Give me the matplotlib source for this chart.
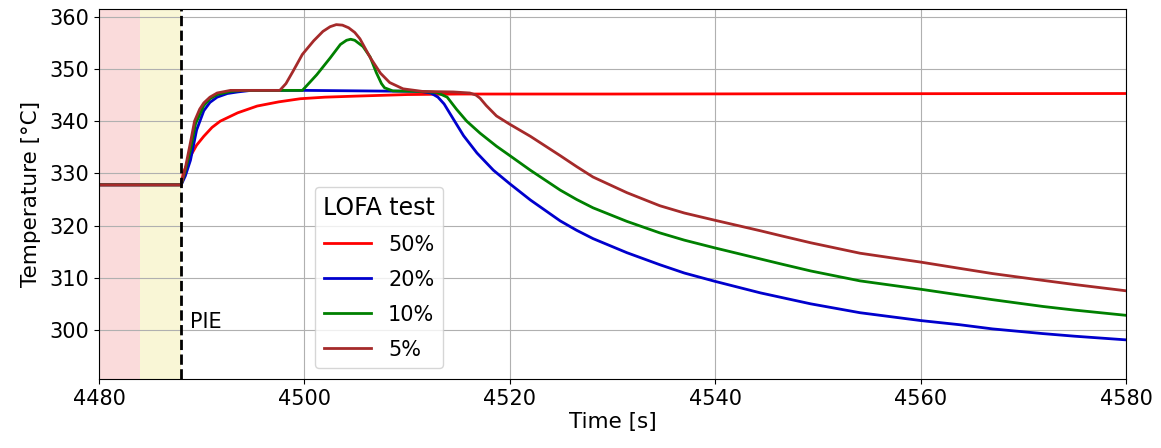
import numpy as np
import matplotlib
matplotlib.use('Agg')
import matplotlib.pyplot as plt

# LOFA test, flow reduced to 50/20/10/5 %
t_50 = [4478, 4488, 4488.2, 4488.9, 4489.5, 4490.2, 4491.0, 4491.8, 4493.5, 4495.4,
        4497.5, 4499.6, 4502, 4505, 4510, 4515, 4530, 4550, 4580]
T_50 = [327.8, 327.8, 330.1, 333.3, 335.4, 337.1, 338.8, 340.0, 341.6, 342.9,
        343.7, 344.3, 344.6, 344.8, 345.1, 345.2, 345.2, 345.25, 345.3]

t_20 = [4478, 4488, 4488.4, 4488.9, 4489.5, 4490.2, 4490.8, 4491.5, 4492.5, 4493.5,
        4494.8, 4500, 4511.3, 4512.3, 4513.0, 4513.6, 4514.5, 4515.5, 4516.8, 4518.4,
        4520, 4522, 4524.9, 4526.5, 4528.1, 4531.4, 4534.6, 4537, 4540, 4544.4,
        4546.5, 4549.3, 4554.1, 4560, 4563.8, 4567, 4571.9, 4575, 4580]
T_20 = [327.8, 327.8, 329.5, 332.5, 338.3, 342.0, 343.6, 344.6, 345.3, 345.6,
        345.9, 345.9, 345.7, 345.4, 344.6, 343.3, 340.4, 337.2, 333.9, 330.6,
        328.0, 324.9, 320.9, 319.1, 317.5, 314.8, 312.5, 310.9, 309.3, 307.1,
        306.2, 305.0, 303.3, 301.8, 301.0, 300.2, 299.3, 298.8, 298.1]

t_10 = [4478, 4488, 4488.4, 4488.9, 4489.4, 4490.2, 4490.8, 4491.5, 4492.8, 4494,
        4499.8, 4500.5, 4501.2, 4502.5, 4503.5, 4504.1, 4504.5, 4504.9, 4505.7, 4506.4,
        4507.0, 4507.5, 4507.8, 4508.6, 4511.3, 4512.9, 4513.9, 4514.8, 4515.8, 4517.1,
        4518.7, 4520, 4522, 4524.9, 4526.5, 4528.1, 4531.4, 4534.6, 4537, 4540,
        4544.4, 4546.5, 4549.3, 4554.1, 4560, 4563.8, 4567, 4571.9, 4575, 4580]
T_10 = [327.8, 327.8, 330.5, 334.5, 339.5, 343.0, 344.3, 345.1, 345.7, 345.9,
        345.9, 347.4, 348.9, 352.1, 354.7, 355.5, 355.7, 355.5, 354.3, 352.3,
        349.3, 347.2, 346.4, 345.8, 345.7, 345.5, 344.6, 342.3, 340.0, 337.7,
        335.2, 333.4, 330.6, 326.8, 325.0, 323.4, 320.8, 318.6, 317.2, 315.7,
        313.6, 312.6, 311.3, 309.4, 307.8, 306.7, 305.8, 304.5, 303.8, 302.8]

t_5 = [4478, 4488, 4488.4, 4488.9, 4489.3, 4489.8, 4490.2, 4490.8, 4491.5, 4492.8,
       4497.6, 4498.2, 4498.9, 4499.8, 4500.9, 4501.8, 4502.5, 4503.1, 4503.7, 4504.3,
       4504.9, 4505.4, 4506.4, 4507.4, 4508.3, 4509.6, 4511.5, 4514.5, 4516.1, 4516.7,
       4517.1, 4517.7, 4518.7, 4520, 4522, 4524.9, 4526.5, 4528.1, 4531.4, 4534.6,
       4537, 4540, 4544.4, 4546.5, 4549.3, 4554.1, 4560, 4563.8, 4567, 4571.9,
       4575, 4580]
T_5 = [327.8, 327.8, 331.0, 335.9, 340.0, 342.3, 343.5, 344.6, 345.4, 345.9,
       345.9, 347.2, 349.6, 352.8, 355.4, 357.2, 358.1, 358.5, 358.4, 357.9,
       357.0, 355.8, 352.2, 349.2, 347.4, 346.2, 345.7, 345.6, 345.4, 345.0,
       344.4, 343.0, 341.0, 339.4, 337.1, 333.4, 331.3, 329.3, 326.3, 323.8,
       322.4, 321.0, 319.0, 318.0, 316.7, 314.7, 313.0, 311.8, 310.8, 309.5,
       308.7, 307.5]

labels = ['50%', '20%', '10%', '5%']
colors = ['red', 'mediumblue', 'green', 'brown']

t_pie = 4488


def main():
    fig = plt.figure(figsize=(11.61, 4.48), dpi=100)
    ax = fig.add_axes([0.0853, 0.154, 0.8846, 0.826])

    ax.axvspan(4470, 4484, color='lightcoral', alpha=0.28, lw=0)
    ax.axvspan(4484, t_pie, color='khaki', alpha=0.35, lw=0)

    for t, T, lab, c in zip([t_50, t_20, t_10, t_5], [T_50, T_20, T_10, T_5], labels, colors):
        ax.plot(t, T, color=c, lw=2, label=lab, solid_joinstyle='round')

    ax.axvline(t_pie, color='black', ls='--', lw=2)
    ax.text(t_pie + 0.9, 301.5, 'PIE', fontsize=15, va='center')

    ax.set_xlim(4480, 4580)
    ax.set_ylim(290.6, 361.5)
    ax.set_yticks(np.arange(300, 361, 10))
    ax.grid(True)
    ax.set_xlabel('Time [s]', fontsize=15.5, labelpad=2)
    ax.set_ylabel('Temperature [°C]', fontsize=15.5, labelpad=6)
    ax.tick_params(labelsize=15)

    ax.legend(title='LOFA test', loc='lower left', bbox_to_anchor=(0.21, 0.03),
              fontsize=15, title_fontsize=17, handlelength=2.3, labelspacing=0.72,
              borderaxespad=0)

    fig.savefig('out.png', dpi=100)


if __name__ == '__main__':
    main()
